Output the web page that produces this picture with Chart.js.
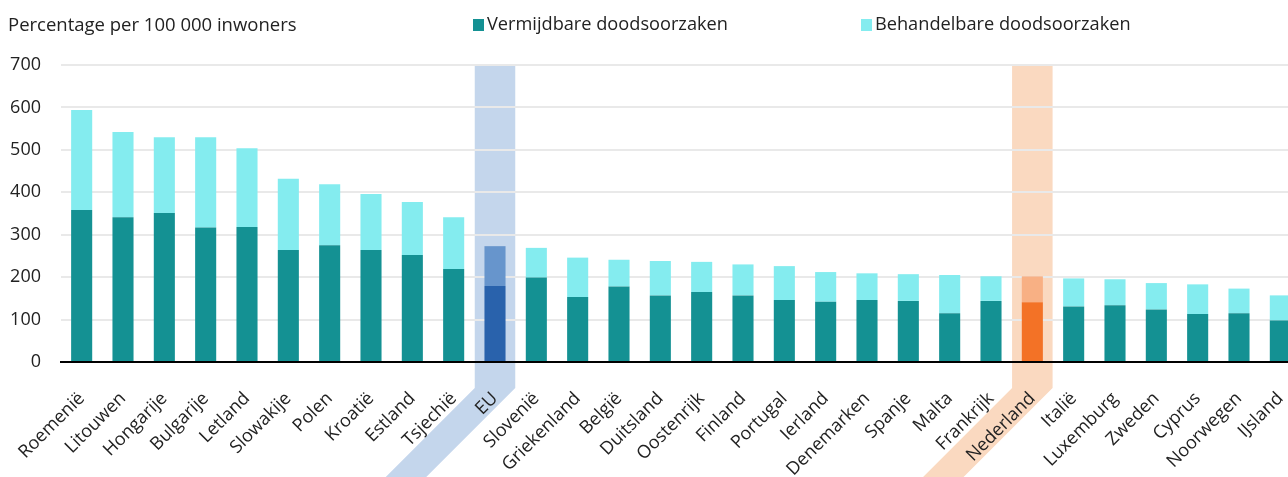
<!DOCTYPE html>
<html>
<head>
<meta charset="utf-8">
<script src="https://cdn.jsdelivr.net/npm/chart.js@4"></script>
<style>
  html, body { margin: 0; padding: 0; background: #fff; overflow: hidden; }
  #wrap { position: relative; width: 1302px; height: 477px; }
  #title { position: absolute; left: 8px; top: 11px; font: 18.5px "Open Sans", sans-serif; color: #222; }
  .leg { position: absolute; top: 11px; font: 18.2px "Open Sans", sans-serif; color: #222; white-space: nowrap; }
  .leg i { display: inline-block; width: 11px; height: 12px; margin-right: 3px; vertical-align: -1px; }
</style>
</head>
<body>
<div id="wrap">
  <canvas id="chart" width="1302" height="477"></canvas>
  <div id="title">Percentage per 100 000 inwoners</div>
  <div class="leg" style="left:473px"><i id="sw0"></i><span id="lg0"></span></div>
  <div class="leg" style="left:861px"><i id="sw1"></i><span id="lg1"></span></div>
</div>
<script>
// landen, gesorteerd op totaal
const landen = ['Roemenië', 'Litouwen', 'Hongarije', 'Bulgarije', 'Letland', 'Slowakije', 'Polen', 'Kroatië',
  'Estland', 'Tsjechië', 'EU', 'Slovenië', 'Griekenland', 'België', 'Duitsland', 'Oostenrijk', 'Finland',
  'Portugal', 'Ierland', 'Denemarken', 'Spanje', 'Malta', 'Frankrijk', 'Nederland', 'Italië', 'Luxemburg',
  'Zweden', 'Cyprus', 'Noorwegen', 'IJsland'];

const vermijdbaar = [358, 341, 351, 317, 318, 264, 275, 264, 252, 219, 179, 199, 153, 178, 157, 165, 157,
  146, 142, 146, 144, 115, 144, 141, 131, 134, 124, 113, 115, 98];

const behandelbaar = [236, 201, 179, 213, 186, 168, 144, 132, 125, 122, 94, 70, 93, 63, 81, 71, 73,
  80, 70, 63, 63, 90, 58, 61, 66, 61, 62, 70, 58, 59];

const yTicks = [0, 100, 200, 300, 400, 500, 600, 700];

const reeksen = ['Vermijdbare doodsoorzaken', 'Behandelbare doodsoorzaken'];

// kleuren
const kleur = {
  donker: '#149193', licht: '#84ecef',
  euDonker: '#2962ac', euLicht: '#6795cc', euBand: '#c4d6ec',
  nlDonker: '#f37226', nlLicht: '#f8b084', nlBand: '#fad9c0'
};

function kleurVoor(land, gewoon, eu, nl) {
  if (land === 'EU') return eu;
  if (land === 'Nederland') return nl;
  return gewoon;
}

document.getElementById('sw0').style.background = kleur.donker;
document.getElementById('sw1').style.background = kleur.licht;
document.getElementById('lg0').textContent = reeksen[0];
document.getElementById('lg1').textContent = reeksen[1];

// band achter EU en Nederland, loopt schuin mee met het label
const bandPlugin = {
  id: 'band',
  beforeDraw(chart) {
    const { ctx, chartArea, scales } = chart;
    const x = scales.x;
    const cw = x.width / landen.length;
    const H = chart.height;
    const yT = x.top + 26;
    [['EU', kleur.euBand], ['Nederland', kleur.nlBand]].forEach(([land, c]) => {
      const cx = x.getPixelForValue(landen.indexOf(land));
      const xL = cx - cw * 0.49, xR = cx + cw * 0.49;
      const d = H - yT;
      ctx.save();
      ctx.fillStyle = c;
      ctx.beginPath();
      ctx.moveTo(xL, chartArea.top);
      ctx.lineTo(xR, chartArea.top);
      ctx.lineTo(xR, yT);
      ctx.lineTo(xR - d, H);
      ctx.lineTo(xL - d, H);
      ctx.lineTo(xL, yT);
      ctx.closePath();
      ctx.fill();
      ctx.restore();
    });
  }
};

new Chart(document.getElementById('chart'), {
  type: 'bar',
  data: {
    labels: landen,
    datasets: [
      {
        label: reeksen[0],
        data: vermijdbaar,
        backgroundColor: landen.map(l => kleurVoor(l, kleur.donker, kleur.euDonker, kleur.nlDonker)),
        barPercentage: 0.51,
        categoryPercentage: 1
      },
      {
        label: reeksen[1],
        data: behandelbaar,
        backgroundColor: landen.map(l => kleurVoor(l, kleur.licht, kleur.euLicht, kleur.nlLicht)),
        barPercentage: 0.51,
        categoryPercentage: 1
      }
    ]
  },
  options: {
    responsive: false,
    animation: false,
    layout: { padding: { top: 65, right: 1, left: 0, bottom: 0 } },
    plugins: { legend: { display: false }, tooltip: { enabled: false } },
    scales: {
      x: {
        stacked: true,
        grid: { display: false },
        border: { color: '#000', width: 2 },
        ticks: {
          autoSkip: false, maxRotation: 45, minRotation: 45, padding: 18,
          color: '#222', font: { family: 'Open Sans', size: 18 }
        },
        afterFit(s) { s.height = 115; s.paddingLeft = 0; s.paddingRight = 0; }
      },
      y: {
        stacked: true,
        min: 0, max: 700,
        afterBuildTicks(s) { s.ticks = yTicks.map(v => ({ value: v })); },
        grid: { color: '#e9e9e9', lineWidth: 2, drawTicks: false },
        border: { display: false },
        ticks: { padding: 20, color: '#222', font: { family: 'Open Sans', size: 18 } },
        afterFit(s) { s.width = 61; }
      }
    }
  },
  plugins: [bandPlugin]
});
</script>
</body>
</html>
